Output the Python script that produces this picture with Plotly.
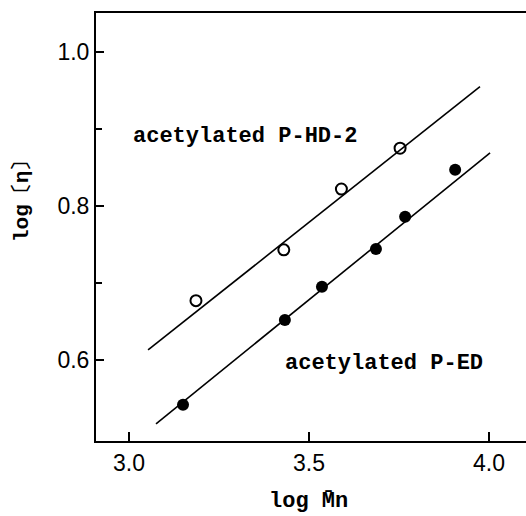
import plotly.graph_objects as go

# Data
hd2_x = [3.186, 3.43, 3.59, 3.753]
hd2_y = [0.677, 0.743, 0.822, 0.875]
ed_x = [3.15, 3.433, 3.536, 3.686, 3.767, 3.906]
ed_y = [0.542, 0.652, 0.695, 0.744, 0.786, 0.847]

# fitted straight lines (end points)
hd2_fit_x = [3.053, 3.975]
hd2_fit_y = [0.613, 0.955]
ed_fit_x = [3.075, 4.003]
ed_fit_y = [0.517, 0.869]

x_ticks = [3.0, 3.5, 4.0]
x_tick_labels = ["3.0", "3.5", "4.0"]
y_ticks = [0.6, 0.8, 1.0]
y_tick_labels = ["0.6", "0.8", "1.0"]

mono = "Liberation Mono, DejaVu Sans Mono, monospace"
label_font = dict(family=mono, size=22, color="black")
tick_font = dict(family="Liberation Sans, Arial, sans-serif", size=23, color="black")

fig = go.Figure()
fig.add_trace(go.Scatter(x=hd2_fit_x, y=hd2_fit_y, mode="lines",
                         line=dict(color="black", width=1.6), showlegend=False))
fig.add_trace(go.Scatter(x=ed_fit_x, y=ed_fit_y, mode="lines",
                         line=dict(color="black", width=1.6), showlegend=False))
fig.add_trace(go.Scatter(x=hd2_x, y=hd2_y, mode="markers",
                         marker=dict(symbol="circle-open", size=11, color="black",
                                     line=dict(width=2, color="black")),
                         showlegend=False))
fig.add_trace(go.Scatter(x=ed_x, y=ed_y, mode="markers",
                         marker=dict(symbol="circle", size=12, color="black"),
                         showlegend=False))

fig.add_annotation(x=3.322, y=0.89, xref="x", yref="y", text="<b>acetylated P-HD-2</b>",
                   showarrow=False, font=label_font)
fig.add_annotation(x=3.708, y=0.596, xref="x", yref="y", text="<b>acetylated P-ED</b>",
                   showarrow=False, font=label_font)

# axis titles as paper-positioned annotations
fig.add_annotation(x=(308 - 96) / 430, y=-(516 - 441) / 428, xref="paper", yref="paper",
                   yanchor="bottom", text="<b>log M\u0304n</b>", showarrow=False,
                   font=dict(family=mono, size=22, color="black"))
fig.add_annotation(x=-(96 - 8) / 430, y=(441 - 196) / 428, xref="paper", yref="paper",
                   text="<b>log\u3014\u03b7\u3015</b>", showarrow=False, textangle=-90,
                   font=dict(family=mono, size=21, color="black"))

fig.update_xaxes(range=[2.9083, 4.1028], tickmode="array", tickvals=x_ticks,
                 ticktext=x_tick_labels, ticks="inside", ticklen=9, tickwidth=2,
                 tickcolor="black", showline=True, linewidth=2, linecolor="black",
                 mirror=True, showgrid=False, zeroline=False, tickfont=tick_font)
fig.update_yaxes(range=[0.4948, 1.0506], tickmode="array", tickvals=y_ticks,
                 ticktext=y_tick_labels, ticks="inside", ticklen=8, tickwidth=2,
                 tickcolor="black", showline=True, linewidth=2, linecolor="black",
                 mirror=False, showgrid=False, zeroline=False, tickfont=tick_font,
                 minor=dict(tickvals=[0.7, 0.9], ticks="inside", ticklen=6, tickwidth=1.5, tickcolor="black"))

fig.update_layout(width=526, height=516, margin=dict(l=96, r=0, t=13, b=75),
                  plot_bgcolor="white", paper_bgcolor="white")

fig.write_html("out.html")
